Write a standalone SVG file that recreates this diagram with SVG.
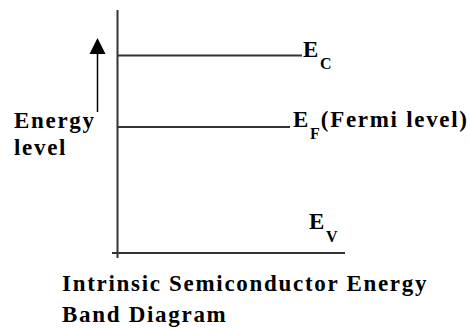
<svg xmlns="http://www.w3.org/2000/svg" width="470" height="330" viewBox="0 0 470 330">
<style>
.ax{stroke:#333;stroke-width:2;fill:none}
.t{font-family:"Liberation Serif","Times New Roman",serif;font-weight:bold;fill:#000;font-size:23px;letter-spacing:1.7px}
.s{font-size:16px;letter-spacing:1px}
</style>
<rect width="470" height="330" fill="#fff"/>
<g id="connectors">
<line class="ax" x1="117.5" y1="10" x2="117.5" y2="258"/>
<line class="ax" x1="112" y1="253" x2="345" y2="253"/>
<line id="arrow" x1="97.5" y1="112" x2="97.5" y2="45" stroke="#000" stroke-width="1.5"/>
<path d="M89.5,54 L97.5,38 L105.5,54 Z" fill="#000"/>
</g>
<g id="ec">
<line class="ax" x1="118" y1="55.5" x2="302" y2="55.5"/>
<text class="t" x="303" y="57">E<tspan class="s" dy="12">C</tspan></text>
</g>
<g id="ef">
<line class="ax" x1="118" y1="127" x2="290" y2="127"/>
<text class="t" x="293" y="127">E<tspan class="s" dy="12">F</tspan><tspan dy="-12">(Fermi level)</tspan></text>
</g>
<g id="ev">
<text class="t" x="309" y="229">E<tspan class="s" dy="13">V</tspan></text>
</g>
<g id="energy-label">
<text class="t" x="14" y="128">Energy</text>
<text class="t" x="14" y="155">level</text>
</g>
<g id="title">
<text class="t" x="62" y="291">Intrinsic Semiconductor Energy</text>
<text class="t" x="62" y="322">Band Diagram</text>
</g>
</svg>
